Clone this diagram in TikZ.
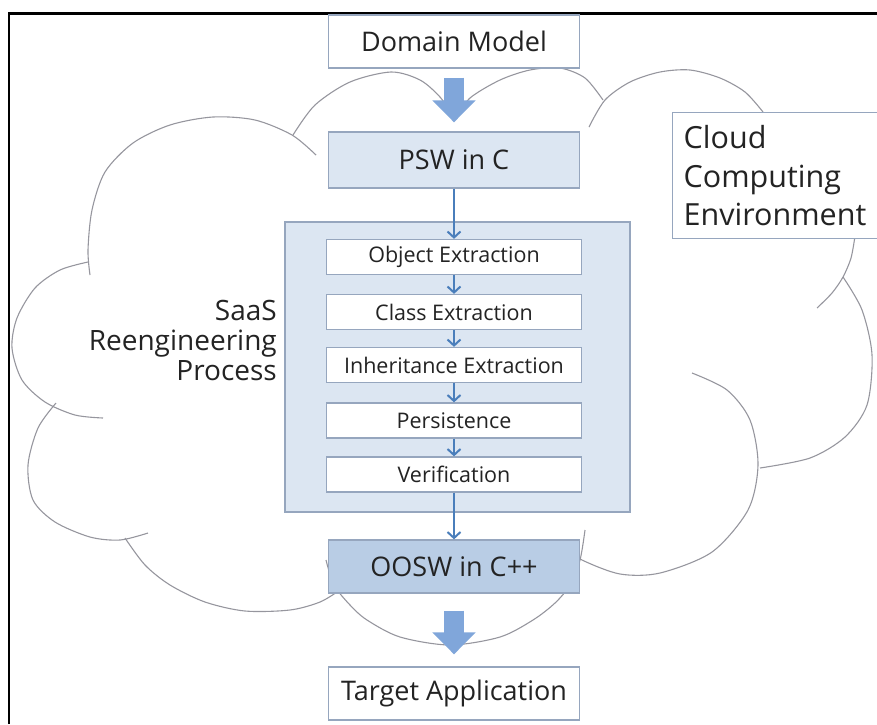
\documentclass[tikz,border=0pt]{standalone}
\usepackage{fontspec}
\setmainfont{Open Sans}
\usetikzlibrary{arrows.meta}

\definecolor{boxline}{RGB}{150,166,190}
\definecolor{paleblue}{RGB}{220,230,242}
\definecolor{midblue}{RGB}{185,205,229}
\definecolor{flowblue}{RGB}{74,126,187}
\definecolor{fatblue}{RGB}{128,166,218}
\definecolor{cloudgray}{RGB}{150,150,158}
\definecolor{ink}{RGB}{35,35,35}

\begin{document}
\begin{tikzpicture}[x=1pt,y=-1pt,
  cloudline/.style={draw=cloudgray, line width=1.1pt},
  mainbox/.style={draw=boxline, line width=1.3pt, fill=white, inner sep=0pt,
    text=ink, minimum width=251pt, minimum height=53pt, font=\fontsize{27}{30}\selectfont},
  stepbox/.style={draw=boxline, line width=1.3pt, fill=white, inner sep=0pt,
    text=ink, minimum width=255pt, minimum height=35pt, font=\fontsize{21.5}{25}\selectfont},
  label/.style={text=ink, inner sep=0pt, font=\fontsize{28}{30}\selectfont},
  flow/.style={draw=flowblue, line width=2pt, -{Straight Barb[length=6pt,width=13pt]}},
  fat/.style={draw=fatblue, line width=20pt, -{Triangle[length=22pt,width=42pt]}}
]
\useasboundingbox (0,0) rectangle (877,724);
\clip (0,0) rectangle (877,724);

% outer frame (top and left edges)
\draw[line width=2.3pt] (9,724) -- (9,13.5) -- (877,13.5);

% cloud outline, bump by bump
\draw[cloudline] plot[smooth] coordinates {(316,155) (292,135) (255,120) (213,117) (170,125) (133,143) (105,172) (92,210) (88,250) (90,275)};
\draw[cloudline] plot[smooth] coordinates {(88,262) (60,270) (35,288) (17,318) (12,348) (22,380) (45,402) (75,415) (103,418)};
\draw[cloudline] plot[smooth] coordinates {(56,403) (38,428) (28,465) (33,500) (55,522) (90,537) (120,540) (148,533)};
\draw[cloudline] plot[smooth] coordinates {(125,538) (145,565) (170,585) (205,602) (245,611) (290,610) (320,602) (340,590)};
\draw[cloudline] plot[smooth] coordinates {(326,560) (334,585) (350,605) (367,620) (400,637) (450,645) (500,637) (533,620) (555,603) (570,585) (580,560) (585,530)};
\draw[cloudline] plot[smooth] coordinates {(692,373) (727,390) (750,420) (758,465) (748,510) (712,552) (660,573) (620,574) (582,560) (570,550)};
\draw[cloudline] plot[smooth] coordinates {(843,277) (862,310) (872,355) (867,405) (845,437) (810,458) (760,468)};
\draw[cloudline] plot[smooth] coordinates {(855,236) (851,258) (843,277) (832,293) (817,308)};
\draw[cloudline] plot[smooth] coordinates {(589,127) (605,100) (630,82) (660,72) (690,70) (720,78) (745,92) (763,112)};
\draw[cloudline] plot[smooth] coordinates {(456,118) (470,98) (500,80) (530,70) (560,68) (585,78) (603,100)};
\draw[cloudline] plot[smooth] coordinates {(293,135) (315,105) (350,82) (391,72) (420,80) (440,97) (452,115)};

% environment label
\node[draw=boxline, line width=1.3pt, fill=white, text=ink, anchor=north west,
  inner xsep=11pt, inner ysep=0pt, text width=193pt, minimum height=126pt, align=left,
  font=\fontsize{30.5}{38.5}\selectfont] (cce) at (672,112) {Cloud\\Computing\\Environment};

% reengineering process container
\node[draw=boxline, line width=1.3pt, fill=paleblue, minimum width=345pt, minimum height=290pt] (saas) at (457.5,367) {};
\node[label, align=right, anchor=east] (saaslabel) at (277,340) {SaaS\\Reengineering\\Process};

% main flow
\node[mainbox] (dm) at (454,41.5) {Domain Model};
\node[mainbox, fill=paleblue, minimum height=56pt] (psw) at (454,160) {PSW in C};
\node[stepbox] (obj) at (454,257) {Object Extraction};
\node[stepbox] (cls) at (454,312) {Class Extraction};
\node[stepbox] (inh) at (454,365) {Inheritance Extraction};
\node[stepbox] (per) at (454,420.5) {Persistence};
\node[stepbox] (ver) at (454,474.5) {Verification};
\node[mainbox, fill=midblue] (oosw) at (454,566.5) {OOSW in C++};
\node[mainbox] (app) at (454,693.5) {Target Application};

% connectors
\draw[fat] ([yshift=-9pt]dm.south) -- ([yshift=9pt]psw.north);
\draw[flow] (psw.south) -- (obj.north);
\draw[flow] (obj.south) -- (cls.north);
\draw[flow] (cls.south) -- (inh.north);
\draw[flow] (inh.south) -- (per.north);
\draw[flow] (per.south) -- (ver.north);
\draw[flow] (ver.south) -- (oosw.north);
\draw[fat] ([yshift=-17pt]oosw.south) -- ([yshift=12pt]app.north);
\end{tikzpicture}
\end{document}
